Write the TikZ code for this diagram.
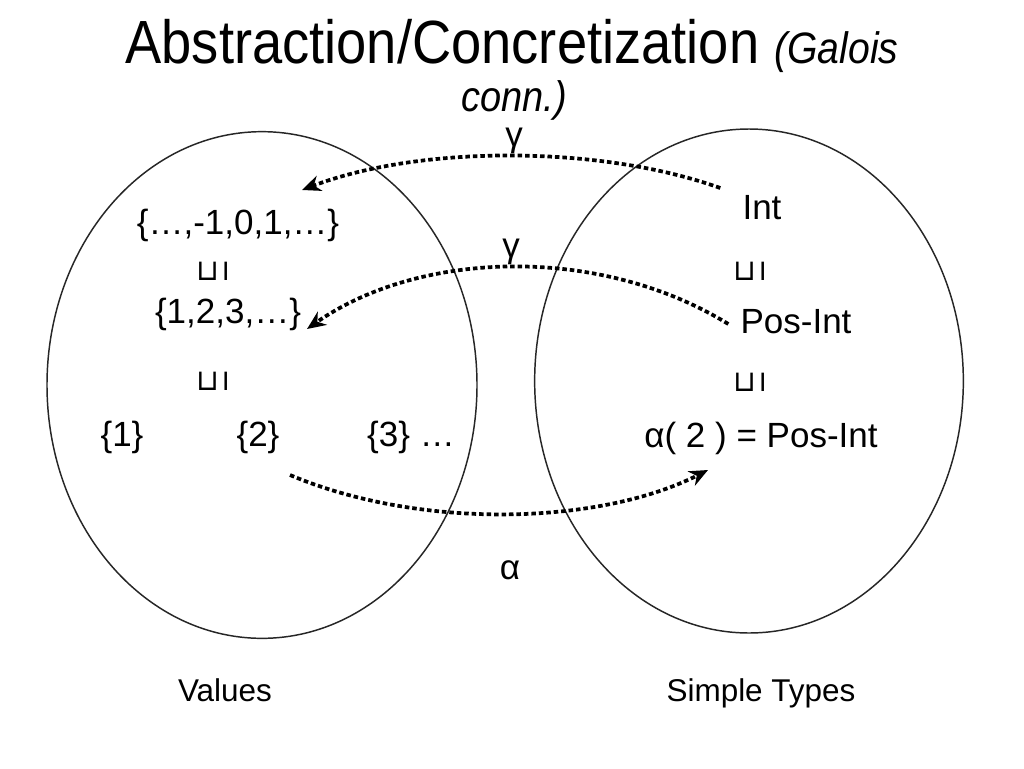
\documentclass[tikz,border=0pt]{standalone}
\usepackage{fontspec}
\setmainfont{Liberation Sans}
\newfontfamily\titlefont[FakeStretch=0.89]{Liberation Sans}
\newfontfamily\symfont{DejaVu Sans}
\usetikzlibrary{arrows.meta,shapes.geometric,calc}
\newcommand{\sqge}{{\symfont\fontsize{22}{26}\selectfont ⊔}\kern2pt{\fontsize{20}{24}\selectfont I}}
\begin{document}
\begin{tikzpicture}[x=0.75pt,y=-0.75pt,
  lbl/.style={font=\fontsize{26.25}{30}\selectfont, inner sep=0pt},
  capt/.style={font=\fontsize{23.6}{28}\selectfont, inner sep=0pt},
  sqsym/.style={inner sep=0pt},
  conn/.style={line width=2.8pt, dash pattern=on 3.4pt off 2.2pt,
    -{Stealth[length=14pt,width=12pt]}},
  setell/.style={ellipse, draw=black!85, line width=1.1pt, inner sep=0pt}]
\useasboundingbox (0,0) rectangle (1024,768);
\fill[white] (0,0) rectangle (1024,768);

% title
\node[anchor=base, inner sep=0pt, font=\titlefont\fontsize{45.75}{50}\selectfont] (title) at (512,63)
  {Abstraction/Concretization {\fontsize{33}{36}\selectfont\itshape(Galois}};
\node[anchor=base, inner sep=0pt, font=\titlefont\fontsize{32}{36}\selectfont\itshape] (title2) at (514,111) {conn.)};

% sets
\node[setell, minimum width=322.5pt, minimum height=380pt] (values) at (262,385) {};
\node[setell, minimum width=321.5pt, minimum height=378pt] (types) at (749,381) {};

% left contents
\node[lbl] (allint) at (238,225) {\{…,-1,0,1,…\}};
\node[sqsym] (sq1) at (213,271) {\sqge};
\node[lbl] (posint) at (228,314) {\{1,2,3,…\}};
\node[sqsym] (sq2) at (213,381) {\sqge};
\node[lbl] (one) at (122,437) {\{1\}};
\node[lbl] (two) at (258,437) {\{2\}};
\node[lbl] (three) at (411,437) {\{3\} …};

% right contents
\node[lbl] (tint) at (762,208) {Int};
\node[sqsym] (sq3) at (750,271) {\sqge};
\node[lbl] (tpos) at (796,322) {Pos-Int};
\node[sqsym] (sq4) at (750,382) {\sqge};
\node[lbl] (alpha2) at (761,438) {α( 2 ) = Pos-Int};

% labels of arrows
\node[lbl] (gam1) at (514,141) {γ};
\node[lbl] (gam2) at (511,252) {γ};
\node[lbl] (alph) at (510,570) {α};

% captions
\node[capt] (valcap) at (225,690) {Values};
\node[capt] (typcap) at (761,693) {Simple Types};

% connector ends
\coordinate (g1s) at ($(tint.west)+(-22,-20)$);
\coordinate (g1e) at (302,190);
\coordinate (g2s) at ($(tpos.west)+(-12,2)$);
\coordinate (g2e) at (307,329);
\coordinate (a1s) at (290,475);
\coordinate (a1e) at (708,470);

\draw[conn] (g1s) .. controls (600,145) and (420,145) .. (g1e);
\draw[conn] (g2s) .. controls (600,245) and (420,250) .. (g2e);
\draw[conn] (a1s) .. controls (420,530) and (600,525) .. (a1e);
\end{tikzpicture}
\end{document}
